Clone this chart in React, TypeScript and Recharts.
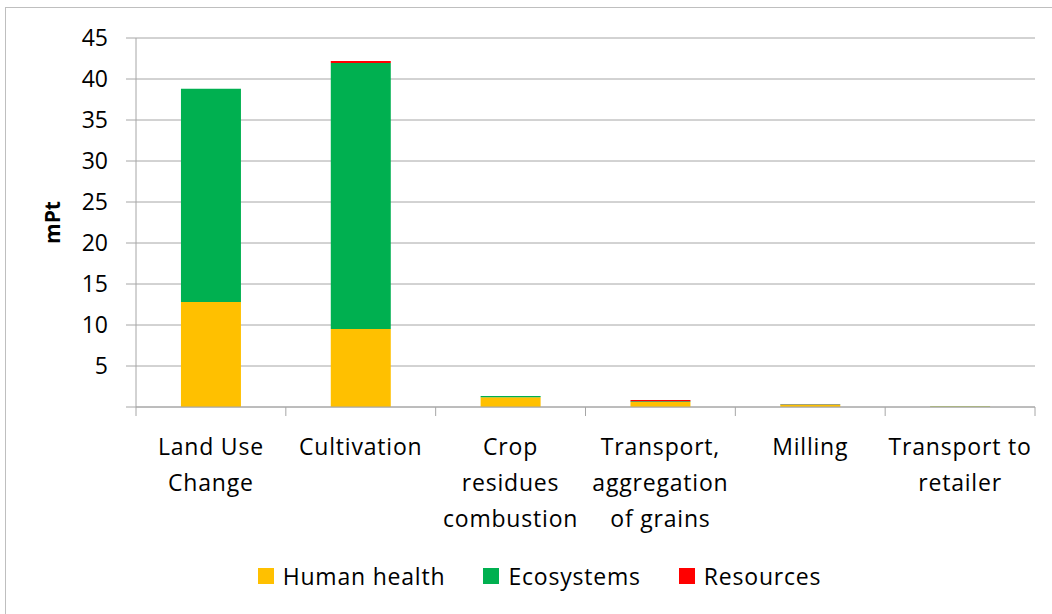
import React from "react";
import { BarChart, Bar, XAxis, YAxis, CartesianGrid, Legend } from "recharts";

const stages = [
  "Land Use Change",
  "Cultivation",
  "Crop residues combustion",
  "Transport, aggregation of grains",
  "Milling",
  "Transport to retailer",
];
const stageLines = [
  ["Land Use", "Change"],
  ["Cultivation"],
  ["Crop", "residues", "combustion"],
  ["Transport,", "aggregation", "of grains"],
  ["Milling"],
  ["Transport to", "retailer"],
];
const humanHealth = [12.8, 9.5, 1.18, 0.6, 0.25, 0.07];
const ecosystems = [26.0, 32.45, 0.15, 0.1, 0.05, 0.02];
const resources = [0.02, 0.25, 0.02, 0.15, 0.05, 0.01];
const yTicks = [0, 5, 10, 15, 20, 25, 30, 35, 40, 45];

const seriesColors = { hh: "#FFC000", eco: "#00B050", res: "#FF0000" };
const seriesNames = { hh: "Human health", eco: "Ecosystems", res: "Resources" };

const data = stages.map((s, i) => ({
  stage: s,
  hh: humanHealth[i],
  eco: ecosystems[i],
  res: resources[i],
}));

const FONT = "'Open Sans', 'Noto Sans', sans-serif";
const W = 1052;
const H = 614;
const LEFT = 136;
const RIGHT = 17;
const BAND = (W - LEFT - RIGHT) / stages.length;
const AXIS = "#A6A6A6";

// tick y arrives 8px below the axis line (default tickSize + tickMargin)
const XTick = (props: any) => {
  const { x, y, index } = props;
  const lines = stageLines[index] || [];
  const axisY = y - 8;
  return (
    <g>
      <line x1={x - BAND / 2} x2={x - BAND / 2} y1={axisY} y2={axisY + 9} stroke={AXIS} />
      {index === stages.length - 1 && (
        <line x1={x + BAND / 2} x2={x + BAND / 2} y1={axisY} y2={axisY + 9} stroke={AXIS} />
      )}
      <text
        x={x}
        y={axisY + 48}
        textAnchor="middle"
        fontFamily={FONT}
        fontSize={23}
        letterSpacing={0.8}
        fill="#000"
      >
        {lines.map((l, k) => (
          <tspan key={k} x={x} dy={k === 0 ? 0 : 36}>
            {l}
          </tspan>
        ))}
      </text>
    </g>
  );
};

const LegendContent = () => (
  <div
    style={{
      display: "flex",
      justifyContent: "center",
      alignItems: "center",
      fontFamily: FONT,
      fontSize: 23,
      letterSpacing: 0.8,
      color: "#000",
      height: 40,
      paddingLeft: 82,
    }}
  >
    {(["hh", "eco", "res"] as const).map((k) => (
      <div key={k} style={{ display: "flex", alignItems: "center", marginRight: 38 }}>
        <span
          style={{
            display: "inline-block",
            width: 16,
            height: 16,
            background: seriesColors[k],
            marginRight: 9,
          }}
        />
        <span>{seriesNames[k]}</span>
      </div>
    ))}
  </div>
);

export default function App() {
  return (
    <div
      style={{
        position: "absolute",
        left: 0,
        top: 0,
        width: W,
        height: H,
        background: "#fff",
        overflow: "hidden",
      }}
    >
      <div
        style={{
          position: "absolute",
          left: 5,
          top: 7,
          width: W,
          height: H,
          border: "1px solid #BFBFBF",
          boxSizing: "border-box",
        }}
      />
      <BarChart
        width={W}
        height={H}
        data={data}
        margin={{ top: 38, right: RIGHT, left: 0, bottom: 18 }}
        barCategoryGap="30%"
      >
        <CartesianGrid vertical={false} stroke={AXIS} />
        <XAxis
          dataKey="stage"
          interval={0}
          tick={<XTick />}
          tickLine={false}
          axisLine={{ stroke: AXIS }}
          height={149}
        />
        <YAxis
          width={LEFT}
          domain={[0, 45]}
          ticks={yTicks}
          tickFormatter={(v: number) => (v === 0 ? "" : String(v))}
          tickSize={10}
          tickMargin={18}
          tickLine={{ stroke: AXIS }}
          axisLine={{ stroke: AXIS }}
          tick={{ fontFamily: FONT, fontSize: 23, fill: "#000" }}
          label={{
            value: "mPt",
            angle: -90,
            position: "insideLeft",
            offset: 53,
            style: { fontFamily: FONT, fontSize: 21, fontWeight: 700, fill: "#000", textAnchor: "middle" },
          }}
        />
        <Legend verticalAlign="bottom" height={40} content={<LegendContent />} />
        <Bar dataKey="hh" stackId="a" fill={seriesColors.hh} isAnimationActive={false} />
        <Bar dataKey="eco" stackId="a" fill={seriesColors.eco} isAnimationActive={false} />
        <Bar dataKey="res" stackId="a" fill={seriesColors.res} isAnimationActive={false} />
      </BarChart>
    </div>
  );
}
